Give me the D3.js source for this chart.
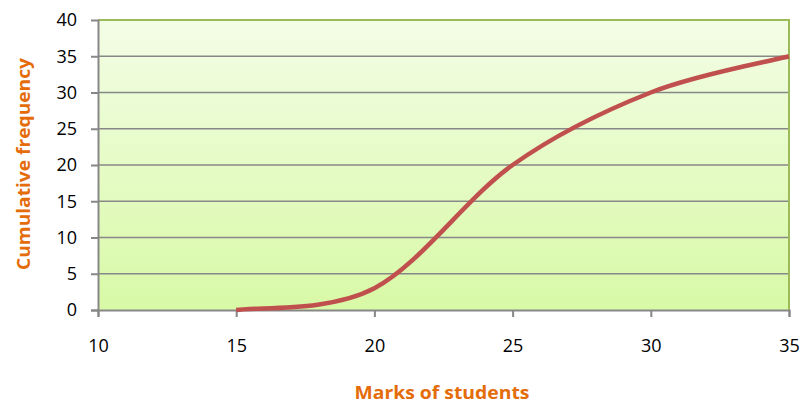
<!DOCTYPE html>
<html><head><meta charset="utf-8">
<script src="https://cdn.jsdelivr.net/npm/d3@7"></script>
<style>html,body{margin:0;padding:0;background:#fff;}svg{display:block;}</style>
</head><body>
<svg id="chart" width="801" height="402"></svg>
<script>
// Data
const marks = [15, 20, 25, 30, 35];
const cumFreq = [0, 3, 20, 30, 35];
const xTicks = [10, 15, 20, 25, 30, 35];
const yTicks = [0, 5, 10, 15, 20, 25, 30, 35, 40];
const xTitle = "Marks of students";
const yTitle = "Cumulative frequency";

const svg = d3.select("#chart");
const L = 98, R = 789, T = 20, B = 310;
const x = d3.scaleLinear().domain([10, 35]).range([L, R]);
const y = d3.scaleLinear().domain([0, 40]).range([B, T]);

const defs = svg.append("defs");
const g = defs.append("linearGradient").attr("id", "bg").attr("x1", 0).attr("y1", 0).attr("x2", 0).attr("y2", 1);
g.append("stop").attr("offset", "0%").attr("stop-color", "#f3fde6");
g.append("stop").attr("offset", "100%").attr("stop-color", "#d8f9a6");

svg.append("rect").attr("x", L).attr("y", T).attr("width", R - L).attr("height", B - T).attr("fill", "url(#bg)");

// gridlines
svg.append("g").selectAll("line").data(yTicks.filter(d => d > 0 && d < 40)).join("line")
  .attr("x1", L).attr("x2", R).attr("y1", d => y(d)).attr("y2", d => y(d))
  .attr("stroke", "#878787").attr("stroke-width", 1.6);

// borders top/right green
svg.append("line").attr("x1", L).attr("x2", R + 1).attr("y1", T).attr("y2", T).attr("stroke", "#9bbb59").attr("stroke-width", 2);
svg.append("line").attr("x1", R).attr("x2", R).attr("y1", T).attr("y2", B).attr("stroke", "#9bbb59").attr("stroke-width", 2);

// axes
const yAxis = d3.axisLeft(y).tickValues(yTicks).tickSize(7).tickPadding(14);
const xAxis = d3.axisBottom(x).tickValues(xTicks).tickSize(7).tickPadding(22);
const ya = svg.append("g").attr("transform", `translate(${L},0)`).call(yAxis);
const xa = svg.append("g").attr("transform", `translate(0,${B})`).call(xAxis);
[ya, xa].forEach(a => {
  a.select(".domain").attr("stroke", "#878787").attr("stroke-width", 2);
  a.selectAll(".tick line").attr("stroke", "#878787").attr("stroke-width", 2);
  a.selectAll(".tick text").attr("fill", "#000").style("font-family", "'Open Sans', sans-serif").style("font-size", "18px");
});
ya.select(".tick:last-of-type line").remove();

// Excel-like smoothed curve (Catmull-Rom, duplicated endpoints)
function ExcelCurve(context) { this._context = context; }
ExcelCurve.prototype = {
  areaStart() { this._line = 0; }, areaEnd() { this._line = NaN; },
  lineStart() { this._pts = []; },
  lineEnd() {
    const p = this._pts, c = this._context, n = p.length;
    if (!n) return;
    c.moveTo(p[0][0], p[0][1]);
    const get = i => p[Math.max(0, Math.min(n - 1, i))];
    for (let i = 0; i < n - 1; i++) {
      const p0 = get(i - 1), p1 = p[i], p2 = p[i + 1], p3 = get(i + 2);
      c.bezierCurveTo(
        p1[0] + (p2[0] - p0[0]) / 6, p1[1] + (p2[1] - p0[1]) / 6,
        p2[0] - (p3[0] - p1[0]) / 6, p2[1] - (p3[1] - p1[1]) / 6,
        p2[0], p2[1]);
    }
  },
  point(px, py) { this._pts.push([+px, +py]); }
};
const excelCurve = ctx => new ExcelCurve(ctx);

const line = d3.line().x((d, i) => x(marks[i])).y(d => y(d)).curve(excelCurve);
svg.append("path").datum(cumFreq).attr("d", line)
  .attr("fill", "none").attr("stroke", "#c0504d").attr("stroke-width", 4.5).attr("stroke-linecap", "butt");

// titles
svg.append("text").attr("x", 442).attr("y", 392).attr("text-anchor", "middle").attr("dominant-baseline", "central")
  .attr("fill", "#e46c0a").style("font-family", "'Open Sans', sans-serif").style("font-weight", "bold").style("font-size", "17px")
  .attr("textLength", 175).attr("lengthAdjust", "spacingAndGlyphs").text(xTitle);
svg.append("text").attr("transform", "translate(23,164) rotate(-90)").attr("text-anchor", "middle").attr("dominant-baseline", "central")
  .attr("fill", "#e46c0a").style("font-family", "'Open Sans', sans-serif").style("font-weight", "bold").style("font-size", "17px")
  .attr("textLength", 212).attr("lengthAdjust", "spacingAndGlyphs").text(yTitle);
</script>
</body></html>
